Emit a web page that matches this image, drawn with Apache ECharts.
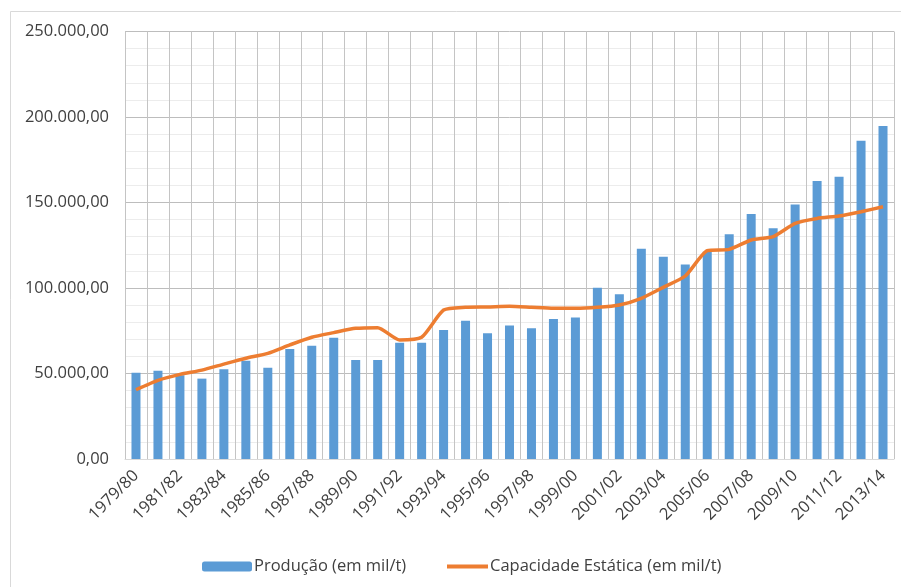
<!DOCTYPE html>
<html>
<head>
<meta charset="utf-8">
<script src="https://cdn.jsdelivr.net/npm/echarts@6/dist/echarts.min.js"></script>
<style>
  html, body { margin: 0; padding: 0; background: #fff; }
  #chart { width: 901px; height: 587px; }
</style>
</head>
<body>
<div id="chart"></div>
<script>
const safras = ['1979/80', '1980/81', '1981/82', '1982/83', '1983/84', '1984/85', '1985/86', '1986/87',
  '1987/88', '1988/89', '1989/90', '1990/91', '1991/92', '1992/93', '1993/94', '1994/95', '1995/96',
  '1996/97', '1997/98', '1998/99', '1999/00', '2000/01', '2001/02', '2002/03', '2003/04', '2004/05',
  '2005/06', '2006/07', '2007/08', '2008/09', '2009/10', '2010/11', '2011/12', '2012/13', '2013/14'];

const producao = [50500, 51600, 49000, 47000, 52500, 57500, 53400, 64300, 66300, 70900, 57900, 57900,
  68000, 68000, 75400, 80900, 73500, 78100, 76400, 81900, 82800, 100200, 96300, 123000, 118300,
  113800, 121200, 131400, 143300, 134900, 148900, 162600, 165100, 186100, 194700];

const capacidade = [40500, 46000, 49500, 52000, 55500, 58900, 61800, 66700, 71200, 73900, 76400, 76800,
  69600, 71200, 87100, 88700, 88900, 89300, 88700, 88100, 88100, 88700, 90100, 94000, 100400,
  107000, 121800, 122600, 128100, 130000, 137800, 140700, 142100, 144600, 147500];

const yTicks = [0, 50000, 100000, 150000, 200000, 250000];

const FONT = 'Open Sans';
const TXT = '#404040';

function fmtBR(v) {
  const s = Math.round(v).toString().replace(/\B(?=(\d{3})+(?!\d))/g, '.');
  return s + ',00';
}

const chart = echarts.init(document.getElementById('chart'), null, { renderer: 'canvas' });

chart.setOption({
  animation: false,
  backgroundColor: '#fff',
  textStyle: { fontFamily: FONT, color: TXT },
  graphic: [{
    type: 'rect',
    shape: { x: 10.5, y: 11.5, width: 1000, height: 1000 },
    style: { fill: 'none', stroke: '#d9d9d9', lineWidth: 1 },
    silent: true
  }],
  grid: { left: 125, right: 7, top: 31.5, bottom: 128, containLabel: false },
  legend: [
    {
      data: ['Produção (em mil/t)'],
      left: 197, top: 553,
      itemWidth: 50, itemHeight: 10,
      textStyle: { fontFamily: FONT, fontSize: 16.5, color: TXT, padding: [0, 0, 0, -3] }
    },
    {
      data: [{ name: 'Capacidade Estática (em mil/t)', icon: 'rect' }],
      left: 442, top: 553,
      itemWidth: 41, itemHeight: 4,
      textStyle: { fontFamily: FONT, fontSize: 16.5, color: TXT, padding: [0, 0, 0, -3] }
    }
  ],
  xAxis: {
    type: 'category',
    data: safras,
    axisLine: { lineStyle: { color: '#d9d9d9' } },
    axisTick: { show: false },
    axisLabel: {
      interval: 1,
      rotate: 45,
      fontFamily: FONT,
      fontSize: 16.5,
      color: TXT,
      margin: 14
    },
    splitLine: { show: true, interval: 0, lineStyle: { color: '#c4c4c4', width: 1 } }
  },
  yAxis: {
    type: 'value',
    min: yTicks[0],
    max: yTicks[yTicks.length - 1],
    interval: 50000,
    axisLine: { show: false },
    axisTick: { show: false },
    axisLabel: {
      fontFamily: FONT,
      fontSize: 16.5,
      color: TXT,
      margin: 16,
      formatter: fmtBR
    },
    splitLine: { lineStyle: { color: '#bdbdbd', width: 1 } },
    minorTick: { show: false, splitNumber: 5 },
    minorSplitLine: { show: true, lineStyle: { color: '#ececec', width: 1 } }
  },
  series: [
    {
      name: 'Produção (em mil/t)',
      type: 'bar',
      data: producao,
      barWidth: '41%',
      itemStyle: { color: '#5b9bd5' }
    },
    {
      name: 'Capacidade Estática (em mil/t)',
      type: 'line',
      data: capacidade,
      symbol: 'none',
      smooth: 0.2,
      lineStyle: { color: '#ed7d31', width: 3.5 },
      itemStyle: { color: '#ed7d31' }
    }
  ]
});
</script>
</body>
</html>
